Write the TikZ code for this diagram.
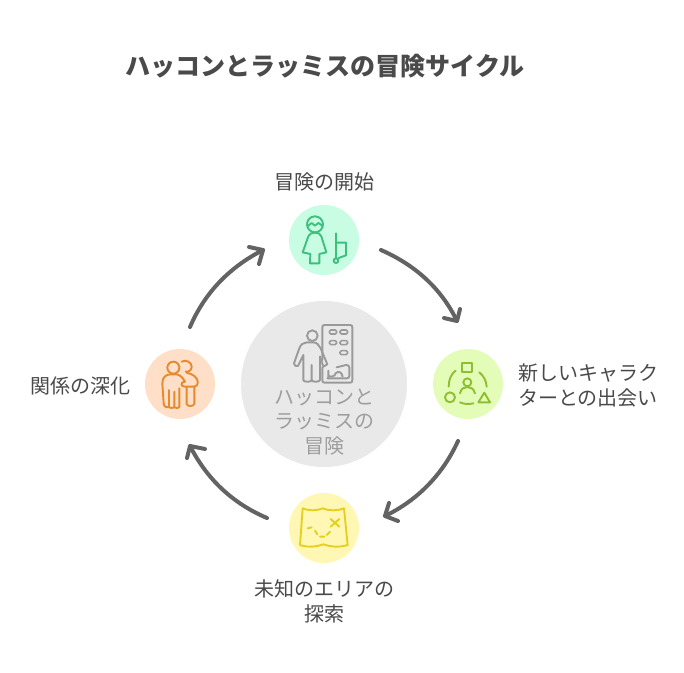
\documentclass[tikz,border=0pt]{standalone}
\usepackage{fontspec}
\setmainfont{Noto Sans CJK JP}
\definecolor{txt}{HTML}{4A4A4A}
\definecolor{arrowc}{HTML}{636363}
\definecolor{cgrey}{HTML}{E9E9E9}
\definecolor{tgrey}{HTML}{9E9E9E}
\definecolor{igrey}{HTML}{9A9A9A}
\definecolor{cgreen}{HTML}{C8FDE3}
\definecolor{igreen}{HTML}{3DBF7E}
\definecolor{clime}{HTML}{E3FDB9}
\definecolor{ilime}{HTML}{8FBF30}
\definecolor{cyellow}{HTML}{FFF7B3}
\definecolor{iyellow}{HTML}{E5CF20}
\definecolor{corange}{HTML}{FFDFC8}
\definecolor{iorange}{HTML}{E58A2E}
\tikzset{
  disc/.style={circle,minimum size=70pt,inner sep=0pt},
  label/.style={text=txt,font=\fontsize{20}{24.5}\selectfont,align=center,inner sep=0pt},
  cyc/.style={draw=arrowc,line width=4pt,line cap=round,line join=round},
  icon/.style={line width=1.9pt,line cap=round,line join=round,fill=none},
}
\newcommand{\iconscope}[3]{\begin{scope}[shift={(#1,#2)},x=0.3333pt,y=-0.3333pt,icon,draw=#3]}
\begin{document}
\begin{tikzpicture}[x=1pt,y=-1pt]
\useasboundingbox (0,0) rectangle (684,672);
\fill[white] (0,0) rectangle (684,672);
\node[text=txt,font=\fontsize{25}{30}\bfseries\selectfont,inner sep=0pt] (title) at (325,66.5) {ハッコンとラッミスの冒険サイクル};
\node[circle,minimum size=166pt,inner sep=0pt,fill=cgrey] (hub) at (324,384) {};
\node[disc,fill=cgreen] (n1) at (324,240) {};
\node[disc,fill=clime] (n2) at (468,384) {};
\node[disc,fill=cyellow] (n3) at (324,528) {};
\node[disc,fill=corange] (n4) at (180,384) {};
\node[label,text=tgrey] (hubt) at (324,421.8) {ハッコンと\\ラッミスの\\冒険};
\node[label] (l1) at (324.5,181.5) {冒険の開始};
\node[label] (l2) at (588,385.3) {新しいキャラク\\ターとの出会い};
\node[label] (l3) at (324,601.3) {未知のエリアの\\探索};
\node[label] (l4) at (80.5,385.5) {関係の深化};
\coordinate (a1s) at (381,250); \coordinate (a1e) at (457,321);
\coordinate (a2s) at (458,441); \coordinate (a2e) at (385,516);
\coordinate (a3s) at (267,518); \coordinate (a3e) at (190,446);
\coordinate (a4s) at (190,327); \coordinate (a4e) at (263,250);
\draw[cyc] (a1s) .. controls (415,265) and (441,288) .. (a1e);
\draw[cyc] (444,318) -- (a1e) -- (460,309);
\draw[cyc] (a2s) .. controls (443,474) and (418,500) .. (a2e);
\draw[cyc] (389,503) -- (a2e) -- (398,521);
\draw[cyc] (a3s) .. controls (232,503) and (207,479) .. (a3e);
\draw[cyc] (187,458) -- (a3e) -- (205,449);
\draw[cyc] (a4s) .. controls (205,292) and (230,267) .. (a4e);
\draw[cyc] (249,247) -- (a4e) -- (259,264);
% top icon
\iconscope{280}{195}{igreen}
\draw (105,88) circle (24);
\draw (84,93) .. controls (90,90) and (92,84) .. (95,84) .. controls (99,84) and (101,92) .. (105,92) .. controls (109,92) and (111,84) .. (115,84) .. controls (119,84) and (122,90) .. (127,93);
\draw (105,113) .. controls (95,113) and (88,116) .. (85,124) -- (68,172) -- (91,177) -- (90,205) -- (118,205) -- (118,177) -- (139,172) -- (124,124) .. controls (121,116) and (115,113) .. (105,113);
\draw (168,115) -- (168,190);
\draw (168,143) -- (198,143) -- (198,181) -- (176,189);
\draw (168,197) circle (7);
\end{scope}
% right icon
\iconscope{425}{340}{ilime}
\draw (112,68) rectangle (140,97);
\draw (127,127) circle (12);
\draw (105,160) .. controls (108,145) and (118,141) .. (127,141) .. controls (136,141) and (146,145) .. (150,160);
\draw (75,172) circle (15);
\draw (178,158) -- (160,187) -- (195,187) -- cycle;
\draw (92,92) .. controls (78,102) and (71,120) .. (71,140);
\draw (163,97) .. controls (176,108) and (184,122) .. (185,140);
\draw (105,187) .. controls (118,193) and (132,193) .. (145,190);
\end{scope}
% bottom icon
\iconscope{280}{485}{iyellow}
\draw (68,70) .. controls (90,78) and (105,78) .. (128,70) .. controls (150,78) and (170,78) .. (192,70) -- (203,180) .. controls (175,188) and (155,186) .. (130,178) .. controls (105,186) and (85,188) .. (60,180) -- cycle;
\draw (152,102) -- (178,125) (178,102) -- (152,125);
\draw (83,130) -- (95,127) (105,137) -- (112,148) (120,155) -- (133,155) (140,150) -- (150,140);
\end{scope}
% left icon
\iconscope{135}{340}{iorange}
\draw (115,83) circle (18);
\draw (102,150) -- (102,200) .. controls (102,205) and (118,205) .. (118,200) -- (118,155) (118,200) .. controls (118,205) and (133,205) .. (133,200) -- (133,145);
\draw (102,200) .. controls (95,205) and (87,200) .. (86,190) -- (82,130) .. controls (82,112) and (92,103) .. (108,103) -- (122,103) .. controls (132,103) and (142,110) .. (150,125);
\draw (150,125) .. controls (136,125) and (136,140) .. (150,140) -- (178,140) .. controls (192,138) and (192,118) .. (178,108) .. controls (172,104) and (165,100) .. (155,98);
\draw (140,65) .. controls (150,58) and (170,65) .. (170,80) .. controls (170,90) and (162,97) .. (152,95);
\draw (178,140) -- (178,192) .. controls (176,200) and (156,200) .. (155,192) -- (155,142);
\end{scope}
% hub icon
\iconscope{270}{310}{igrey}
\draw (157,150) -- (157,52) .. controls (157,47) and (159,45) .. (164,45) -- (240,45) .. controls (245,45) and (247,47) .. (247,52) -- (247,211) .. controls (247,216) and (245,218) .. (240,218) -- (164,218) .. controls (159,218) and (157,216) .. (157,211) -- (157,172);
\begin{scope}[line width=1.6pt]
\draw[rounded corners=1.5pt] (178,60) rectangle (200,72);
\draw[rounded corners=1.5pt] (210,60) rectangle (233,72);
\draw[rounded corners=1.5pt] (178,92) rectangle (200,104);
\draw[rounded corners=1.5pt] (210,92) rectangle (233,104);
\draw[rounded corners=1.5pt] (210,122) rectangle (233,134);
\end{scope}
\draw (127,77) circle (16);
\draw (75,167) -- (72,160) -- (88,115) .. controls (92,104) and (100,97) .. (110,97) -- (130,97) .. controls (140,97) and (148,106) .. (152,115) -- (172,163) -- (160,170) -- (150,140);
\draw (75,167) -- (84,168) -- (100,135) -- (100,210) .. controls (100,217) and (125,217) .. (125,210) -- (125,165) -- (125,210) .. controls (125,217) and (150,217) .. (150,210) -- (150,140);
\draw (200,172) -- (228,165) .. controls (234,164) and (238,168) .. (238,172) -- (238,198) .. controls (238,203) and (234,205) .. (230,205) -- (172,205);
\draw (175,205) -- (175,182) (175,196) .. controls (180,203) and (195,200) .. (197,190) .. controls (205,180) and (216,188) .. (218,200);
\end{scope}
\end{tikzpicture}
\end{document}
